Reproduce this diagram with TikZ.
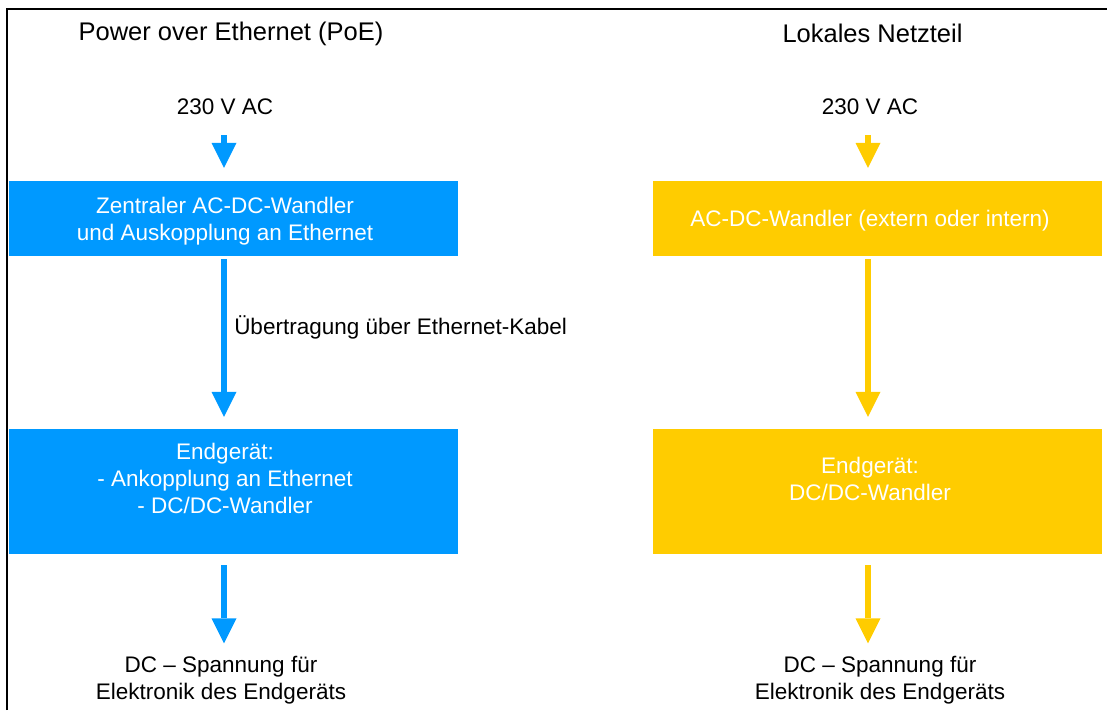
\documentclass[tikz,border=0pt]{standalone}
\usepackage{fontspec}
\setmainfont{Liberation Sans}
\usetikzlibrary{arrows.meta}
\definecolor{blueC}{RGB}{0,153,255}
\definecolor{yelC}{RGB}{255,204,0}
\tikzset{
  body/.style={inner sep=0pt, font=\fontsize{22.5}{27}\selectfont, align=center},
  title/.style={inner sep=0pt, font=\fontsize{25.5}{30}\selectfont},
  boxB/.style={fill=blueC, draw=none, minimum width=449pt, inner sep=0pt},
  boxY/.style={fill=yelC, draw=none, minimum width=449pt, inner sep=0pt},
  intext/.style={body, text=white},
  arrB/.style={draw=blueC, line width=6.5pt, -{Triangle[length=25pt,width=25pt,line width=0pt]}},
  arrY/.style={draw=yelC, line width=6.5pt, -{Triangle[length=25pt,width=25pt,line width=0pt]}},
}
\begin{document}
\begin{tikzpicture}[x=1pt,y=-1pt]
\useasboundingbox (0,0) rectangle (1107,710);
% frame
\draw[line width=2pt] (7,710) -- (7,9) -- (1107,9);

% ---- left column ----
\node[title, anchor=base] (tL) at (231,40.5) {Power over Ethernet (PoE)};
\node[body, anchor=base] (acL) at (225,114.5) {230 V AC};
\node[boxB, minimum height=75pt] (b1L) at (233.5,218.5) {};
\node[intext] (t1L) at (225,221) {Zentraler AC-DC-Wandler\\und Auskopplung an Ethernet};
\node[boxB, minimum height=125pt] (b2L) at (233.5,491.5) {};
\node[intext] (t2L) at (225,478) {Endgerät:\\- Ankopplung an Ethernet\\- DC/DC-Wandler};
\node[body] (dcL) at (221,680.5) {DC – Spannung für\\Elektronik des Endgeräts};

\coordinate (xL) at (224,0);
\draw[arrB, shorten <=20.5pt, shorten >=13pt] (acL.south -| xL) -- (b1L.north -| xL);
\draw[arrB, shorten <=3pt, shorten >=12pt] (b1L.south -| xL) -- (b2L.north -| xL) node[pos=0.47, right=7pt, yshift=10pt, body, text=black] (lab) {Übertragung über Ethernet-Kabel};
\draw[arrB, shorten <=11pt, shorten >=13pt] (b2L.south -| xL) -- (dcL.north -| xL);

% ---- right column ----
\node[title, anchor=base] (tR) at (872.5,42) {Lokales Netzteil};
\node[body, anchor=base] (acR) at (870,114.5) {230 V AC};
\node[boxY, minimum height=75pt] (b1R) at (877.5,218.5) {};
\node[intext] (t1R) at (870,221) {AC-DC-Wandler (extern oder intern)};
\node[boxY, minimum height=125pt] (b2R) at (877.5,491.5) {};
\node[intext] (t2R) at (870,478.5) {Endgerät:\\DC/DC-Wandler};
\node[body] (dcR) at (880,680.5) {DC – Spannung für\\Elektronik des Endgeräts};

\coordinate (xR) at (868,0);
\draw[arrY, shorten <=20.5pt, shorten >=13pt] (acR.south -| xR) -- (b1R.north -| xR);
\draw[arrY, shorten <=3pt, shorten >=12pt] (b1R.south -| xR) -- (b2R.north -| xR);
\draw[arrY, shorten <=11pt, shorten >=13pt] (b2R.south -| xR) -- (dcR.north -| xR);
\end{tikzpicture}
\end{document}
